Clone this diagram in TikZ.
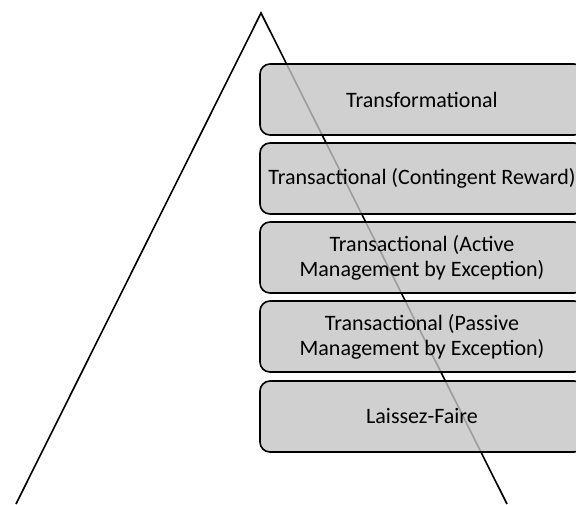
\documentclass[tikz,border=0pt]{standalone}
\usepackage{fontspec}
\setmainfont{Carlito}
\usetikzlibrary{shapes}
\tikzstyle{level}=[rectangle,rounded corners=10pt,draw=black,line width=1.6pt,fill=black!23,fill opacity=0.8,text opacity=1,minimum width=324pt,minimum height=71pt,align=center,font=\fontsize{22}{25}\selectfont]
\tikzstyle{side} = [draw,line width=1.6pt,-]

\begin{document}
\begin{tikzpicture}[x=1pt,y=-1pt]
    \useasboundingbox (0,0) rectangle (576,504);
    \clip (0,0) rectangle (576,504);
    % Draw the pyramid first
    \coordinate (apex) at (261,13);
    \coordinate (baseL) at (16,504);
    \coordinate (baseR) at (507,504);
    \path[side] (baseL) -- (apex) -- (baseR);
    % Then the levels on top of it
    \foreach \pos/\name/\txt in {{(422,99.5)/transf/{Transformational}},
        {(422,178.5)/reward/{Transactional (Contingent Reward)}},
        {(422,257.5)/active/{Transactional (Active\\Management by Exception)}},
        {(422,336.5)/passive/{Transactional (Passive\\Management by Exception)}},
        {(422,416.5)/laissez/{Laissez-Faire}}}
        \node[level] (\name) at \pos {\txt};
\end{tikzpicture}
\end{document}
